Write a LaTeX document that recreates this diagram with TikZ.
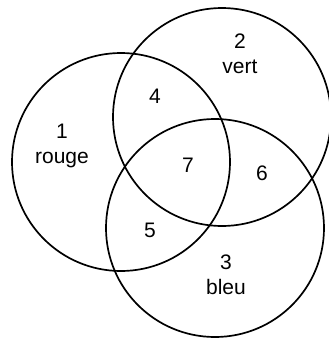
\documentclass[tikz,border=0pt]{standalone}
\usepackage{fontspec}
\setmainfont{Liberation Sans}
\usetikzlibrary{positioning}

\begin{document}
\begin{tikzpicture}[x=1pt, y=-1pt,
    ring/.style={circle, draw=black, line width=1.7pt, minimum size=218pt, inner sep=0pt},
    lab/.style={font=\fontsize{21}{24}\selectfont, inner sep=0pt, align=center}
]
    \useasboundingbox (0,0) rectangle (329,341);

    % the three sets
    \node[ring] (rouge) at (121,162) {};
    \node[ring] (vert)  at (222,117) {};
    \node[ring] (bleu)  at (215,228) {};

    % region labels
    \node[lab] (one)   at (62,146)  {1\\[1pt]rouge};
    \node[lab] (two)   at (240,54)  {2\\[1pt]vert};
    \node[lab] (three) at (226,275) {3\\[1pt]bleu};
    \node[lab] (four)  at (155,96)  {4};
    \node[lab] (five)  at (150,230) {5};
    \node[lab] (six)   at (262,173) {6};
    \node[lab] (seven) at (188,165) {7};
\end{tikzpicture}
\end{document}
